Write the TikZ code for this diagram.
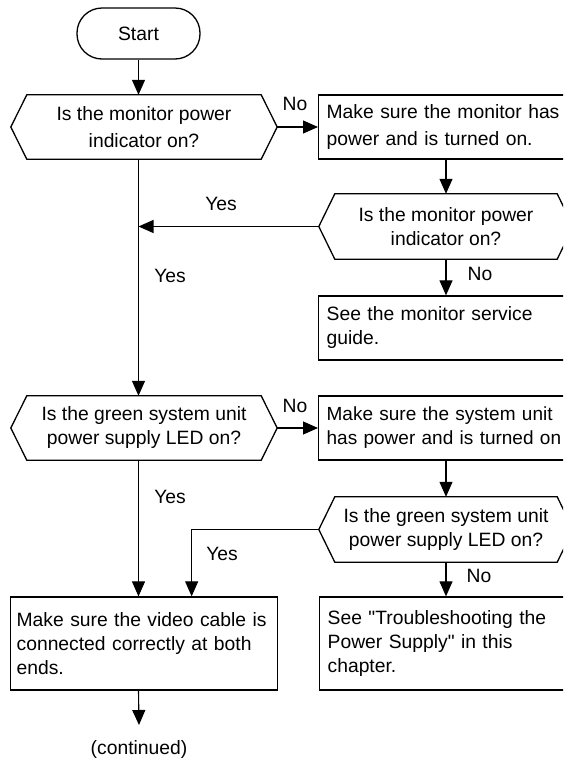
\documentclass[tikz,border=0pt]{standalone}
\usepackage{fontspec}
\setmainfont{Liberation Sans}[Ligatures=TeXOff]
\usetikzlibrary{arrows.meta}

% Outline of a decision hexagon drawn around a (borderless) rectangular node
\newcommand\drawdecision[1]{%
  \draw[shapeline] ([xshift=16pt]#1.north west) -- ([xshift=-16pt]#1.north east)
    -- (#1.east) -- ([xshift=-16pt]#1.south east)
    -- ([xshift=16pt]#1.south west) -- (#1.west) -- cycle;}

\begin{document}
\begin{tikzpicture}[x=1pt,y=-1pt,
  every node/.style={font=\fontsize{19.3}{24}\selectfont},
  wide/.style={font=\fontsize{19.3}{27}\selectfont},
  shapeline/.style={line width=1.3pt},
  terminal/.style={draw, shapeline, rounded corners=25pt, minimum width=123pt,
    minimum height=51pt, inner sep=0pt},
  decision/.style={inner sep=0pt, align=center, minimum height=64pt},
  action/.style={draw, shapeline, inner xsep=8pt, inner ysep=0pt, align=left,
    anchor=west, minimum height=64pt, text width=256pt},
  flow/.style={line width=1.1pt, -{Triangle[length=15pt,width=13pt]}},
  tag/.style={anchor=base, inner sep=0pt},
]
\useasboundingbox (0,0) rectangle (563,761);
\clip (0,0) rectangle (563,761);

% Shapes
\node[terminal] (start) at (138.5,33.5) {Start};
\node[decision, wide, minimum width=266pt] (q1) at (144,127)
  {Is the monitor power\\indicator on?};
\node[action, wide] (a1) at (318,127)
  {Make sure the monitor has\\power and is turned on.};
\node[decision, minimum width=254pt, minimum height=65pt] (q2) at (446,226.5)
  {Is the monitor power\\indicator on?};
\node[action] (a2) at (318,328)
  {See the monitor service\\guide.};
\node[decision, minimum width=266pt] (q3) at (144,428)
  {Is the green system unit\\power supply LED on?};
\node[action, font=\fontsize{19}{24}\selectfont] (a3) at (318,428)
  {Make sure the system unit\\has power and is turned on};
\node[decision, minimum width=254pt, minimum height=65pt] (q4) at (446,529.5)
  {Is the green system unit\\power supply LED on?};
\node[action, text width=255pt, inner xsep=6pt, minimum height=93pt] (a4) at (10,643.5)
  {Make sure the video cable is\\connected correctly at both\\ends.};
\node[action, minimum height=93pt] (a5) at (319,643.5)
  {See "Troubleshooting the\\Power Supply" in this\\chapter.};

\drawdecision{q1}
\drawdecision{q2}
\drawdecision{q3}
\drawdecision{q4}

% Connectors
\draw[flow] (start.south) -- (start.south |- q1.north);
\draw[flow] (q1.east) -- (a1.west);
\draw[flow] (q2.north |- a1.south) -- (q2.north);
\draw[flow] (q2.west) -- (q2.west -| start.south);
\draw[flow] (start.south |- q1.south) -- (start.south |- q3.north);
\draw[flow] (q2.south) -- (q2.south |- a2.north);
\draw[flow] (q3.east) -- (a3.west);
\draw[flow] (q4.north |- a3.south) -- (q4.north);
\draw[flow] (q4.west) -| ([xshift=47.5pt]a4.north);
\draw[flow] (start.south |- q3.south) -- (start.south |- a4.north);
\draw[flow] (q4.south) -- (q4.south |- a5.north);
\coordinate (onward) at (139,725);
\draw[flow] (start.south |- a4.south) -- (onward);

% Labels
\node[tag] (no1) at (295,110) {No};
\node[tag] (yes2) at (221,210) {Yes};
\node[tag] (yes1) at (170,282) {Yes};
\node[tag] (no2) at (480,280) {No};
\node[tag] (no3) at (295,412) {No};
\node[tag] (yes3) at (170,503) {Yes};
\node[tag] (yes4) at (222,560) {Yes};
\node[tag] (no4) at (479,582) {No};
\node[tag] (cont) at (139,754) {(continued)};
\end{tikzpicture}
\end{document}
